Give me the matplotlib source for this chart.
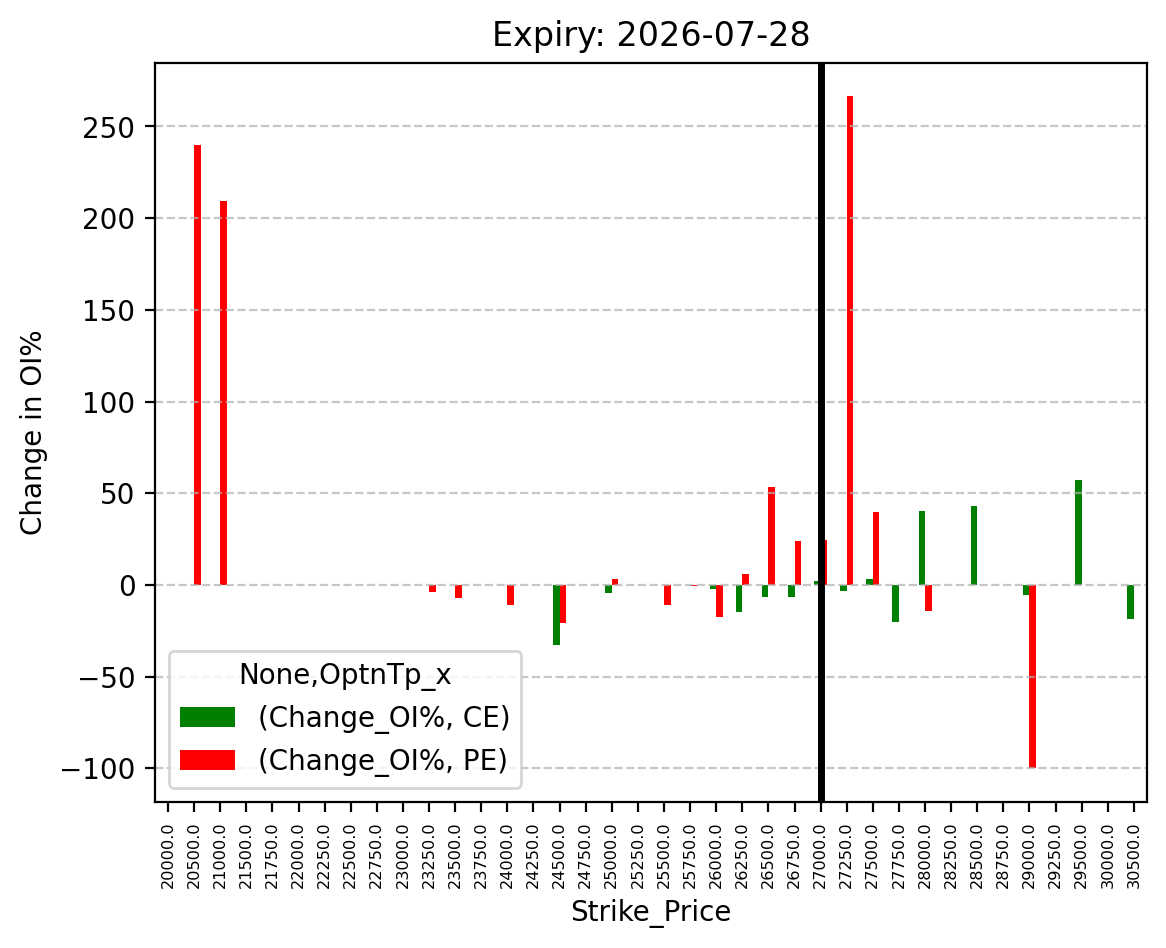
import numpy as np
import pandas as pd
import matplotlib
matplotlib.use('Agg')
import matplotlib.pyplot as plt

nan = np.nan
strikes = [20000, 20500, 21000, 21500, 21750, 22000, 22250, 22500, 22750, 23000,
           23250, 23500, 23750, 24000, 24250, 24500, 24750, 25000, 25250, 25500,
           25750, 26000, 26250, 26500, 26750, 27000, 27250, 27500, 27750, 28000,
           28250, 28500, 28750, 29000, 29250, 29500, 30000, 30500]
ce_change = [nan, nan, nan, nan, nan, nan, nan, nan, nan, nan,
             nan, nan, nan, nan, nan, -33.0, nan, -4.5, nan, nan,
             nan, -2.2, -15.0, -6.5, -6.5, 2.0, -3.3, 3.1, -20.0, 40.5,
             nan, 42.9, nan, -5.5, nan, 57.1, nan, -18.5]
pe_change = [nan, 240.0, 209.5, nan, nan, nan, nan, nan, nan, nan,
             -3.8, -7.0, nan, -11.0, nan, -20.8, nan, 3.0, nan, -11.0,
             -0.6, -17.5, 5.8, 53.3, 23.8, 24.4, 266.5, 39.6, nan, -14.2,
             nan, nan, nan, -100.0, nan, nan, nan, nan]
spot_strike = 27000

cols = pd.MultiIndex.from_tuples([('Change_OI%', 'CE'), ('Change_OI%', 'PE')], names=[None, 'OptnTp_x'])
idx = pd.Index([float(s) for s in strikes], name='Strike_Price')
df = pd.DataFrame(np.column_stack([ce_change, pe_change]), index=idx, columns=cols)

fig, ax = plt.subplots(figsize=(6.4, 4.8), dpi=200)
df.plot(kind='bar', color=['green', 'red'], ax=ax)
ax.axvline(x=strikes.index(spot_strike), color='black', linewidth=2.5)
ax.set_title('Expiry: 2026-07-28')
ax.set_ylabel('Change in OI%')
ax.set_xlabel('Strike_Price')
ax.tick_params(axis='x', labelsize=5.8)
ax.grid(axis='y', linestyle='--', alpha=0.7)
ax.legend(title='None,OptnTp_x', loc='lower left')
plt.savefig('out.png', dpi=200, bbox_inches='tight')
